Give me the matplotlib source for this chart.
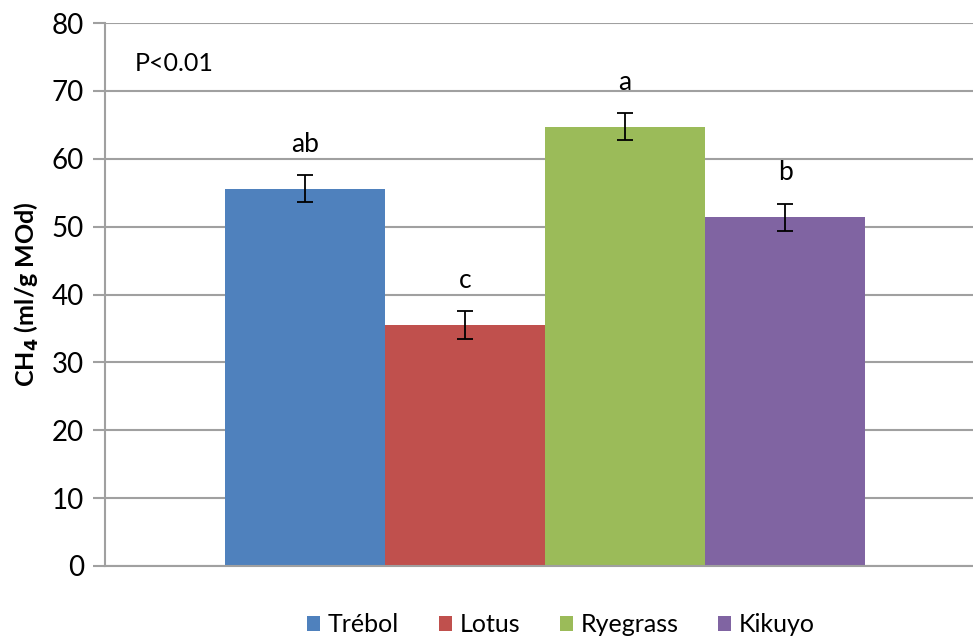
import matplotlib.pyplot as plt
import numpy as np

categories = ["Trébol", "Lotus", "Ryegrass", "Kikuyo"]
ch4 = [55.6, 35.5, 64.7, 51.4]
err = [2.0, 2.0, 2.0, 2.0]
letters = ["ab", "c", "a", "b"]
colors = ["#4F81BD", "#C0504D", "#9BBB59", "#8064A2"]
yticks = [0, 10, 20, 30, 40, 50, 60, 70, 80]

plt.rcParams['font.family'] = ['Lato', 'DejaVu Sans']

fig = plt.figure(figsize=(9.73, 6.39), dpi=100)
ax = fig.add_axes([105 / 973, 1 - 566 / 639, 1 - 105 / 973, (566 - 23) / 639])

grid_c = "#A0A0A0"
offsets = np.arange(len(categories)) - 1.5
for i, (cat, v, e, lt, c) in enumerate(zip(categories, ch4, err, letters, colors)):
    ax.bar(offsets[i], v, width=1.0, color=c, label=cat, zorder=2)
    ax.errorbar(offsets[i], v, yerr=e, fmt='none', ecolor='black',
                elinewidth=1.3, capsize=5.5, capthick=1.3, zorder=3)
    ax.annotate(lt, (offsets[i], v + e), xytext=(0, 13), textcoords='offset points',
                ha='center', va='bottom', fontsize=19)

ax.set_xlim(-2.75, 2.675)
ax.set_ylim(0, 80)
ax.set_yticks(yticks)
ax.set_xticks([])
ax.yaxis.grid(True, color=grid_c, linewidth=1.5, zorder=0)
ax.set_axisbelow(True)
for s in ["top", "right"]:
    ax.spines[s].set_visible(False)
for s in ["left", "bottom"]:
    ax.spines[s].set_color(grid_c)
    ax.spines[s].set_linewidth(1.5)
ax.tick_params(axis='y', length=9, width=1.5, color=grid_c, labelsize=20, pad=6)

ax.set_ylabel("CH$_\\mathbf{4}$ (ml/g MOd)", fontsize=18, fontweight='bold', labelpad=8)
ax.text(-2.75 + 30 / 160, 74.1, "P<0.01", fontsize=18, va='center', ha='left')

ax.legend(loc='center', bbox_to_anchor=(561 / 973, 1 - 625 / 639),
          bbox_transform=fig.transFigure, ncol=4, frameon=False, fontsize=18,
          handlelength=0.52, handleheight=0.52, handletextpad=0.3, columnspacing=1.6)

fig.savefig("out.png", dpi=100)
